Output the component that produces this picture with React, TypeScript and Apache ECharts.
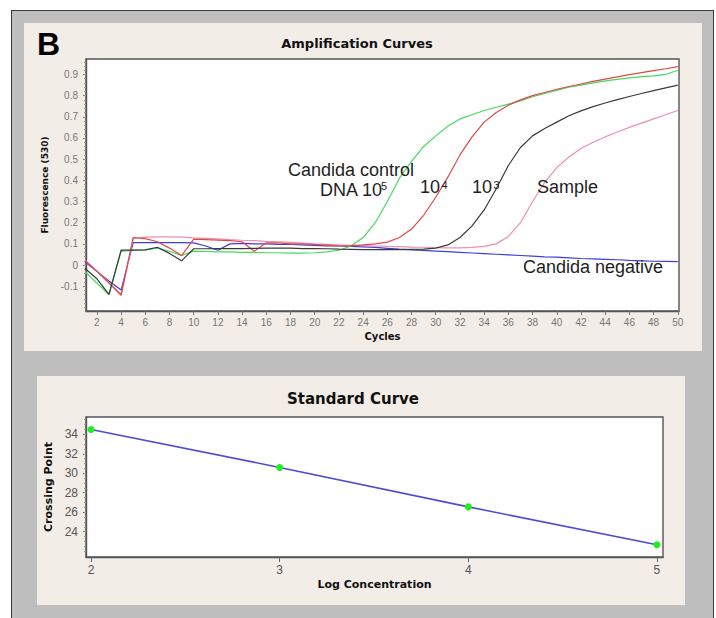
import React, { useEffect, useRef } from "react";
import * as echarts from "echarts";

// ---------- Data ----------
const cycles = [
  1, 2, 3, 4, 5, 6, 7, 8, 9, 10, 11, 12, 13, 14, 15, 16, 17, 18, 19, 20, 21, 22, 23, 24, 25,
  26, 27, 28, 29, 30, 31, 32, 33, 34, 35, 36, 37, 38, 39, 40, 41, 42, 43, 44, 45, 46, 47, 48, 49, 50,
];

const control1e5 = [
  -0.03, -0.085, -0.14, 0.065, 0.07, 0.072, 0.08, 0.065, 0.045, 0.066, 0.064, 0.062, 0.062, 0.06, 0.06,
  0.058, 0.058, 0.056, 0.056, 0.058, 0.062, 0.07, 0.09, 0.13, 0.2, 0.3, 0.41, 0.49, 0.56, 0.61,
  0.655, 0.69, 0.71, 0.73, 0.745, 0.76, 0.775, 0.795, 0.81, 0.825, 0.84, 0.85, 0.86, 0.87, 0.877,
  0.884, 0.89, 0.893, 0.9, 0.92,
];

const control1e4 = [
  0.022, -0.03, -0.085, -0.14, 0.13, 0.125, 0.11, 0.08, 0.045, 0.122, 0.12, 0.118, 0.115, 0.11, 0.065,
  0.105, 0.105, 0.1, 0.1, 0.097, 0.094, 0.09, 0.092, 0.095, 0.1, 0.108, 0.13, 0.17, 0.235, 0.32,
  0.415, 0.52, 0.605, 0.675, 0.72, 0.755, 0.78, 0.8, 0.815, 0.83, 0.843, 0.855, 0.867, 0.878, 0.889,
  0.899, 0.909, 0.918, 0.927, 0.937,
];

const control1e3 = [
  -0.015, -0.065, -0.138, 0.07, 0.07, 0.072, 0.084, 0.055, 0.02, 0.077, 0.077, 0.078, 0.078, 0.078, 0.079,
  0.08, 0.08, 0.08, 0.078, 0.078, 0.077, 0.075, 0.074, 0.073, 0.073, 0.073, 0.073, 0.074, 0.075, 0.08,
  0.095, 0.13, 0.185, 0.26, 0.36, 0.47, 0.555, 0.61, 0.645, 0.675, 0.705, 0.728, 0.748, 0.765, 0.781,
  0.796, 0.81, 0.824, 0.837, 0.85,
];

const sample = [
  0.025, -0.028, -0.083, -0.145, 0.125, 0.132, 0.133, 0.133, 0.132, 0.128, 0.126, 0.124, 0.12, 0.117, 0.115,
  0.112, 0.11, 0.107, 0.104, 0.1, 0.098, 0.095, 0.093, 0.092, 0.09, 0.088, 0.087, 0.085, 0.084, 0.082,
  0.081, 0.081, 0.083, 0.088, 0.1, 0.135, 0.2, 0.3, 0.39, 0.46, 0.51, 0.55, 0.58, 0.605, 0.628,
  0.65, 0.67, 0.69, 0.71, 0.73,
];

const negative = [
  0.015, -0.03, -0.075, -0.118, 0.106, 0.106, 0.106, 0.106, 0.106, 0.105, 0.09, 0.07, 0.1, 0.102, 0.1,
  0.1, 0.098, 0.097, 0.095, 0.093, 0.091, 0.09, 0.088, 0.086, 0.083, 0.079, 0.075, 0.072, 0.069, 0.066,
  0.063, 0.06, 0.057, 0.054, 0.051, 0.048, 0.045, 0.042, 0.039, 0.037, 0.034, 0.031, 0.029, 0.027, 0.025,
  0.022, 0.02, 0.018, 0.017, 0.016,
];

const cycleTicks = [2, 4, 6, 8, 10, 12, 14, 16, 18, 20, 22, 24, 26, 28, 30, 32, 34, 36, 38, 40, 42, 44, 46, 48, 50];
const fluorTicks = [-0.1, 0, 0.1, 0.2, 0.3, 0.4, 0.5, 0.6, 0.7, 0.8, 0.9];

const logConcentration = [2, 3, 4, 5];
const crossingPoint = [34.5, 30.6, 26.55, 22.65];
const logTicks = [2, 3, 4, 5];
const cpTicks = [24, 26, 28, 30, 32, 34];

// ---------- Helpers ----------
const minorRange = (from: number, to: number, step: number) => {
  const out: number[] = [];
  for (let v = from; v <= to + 1e-9; v += step) out.push(Math.round(v * 1000) / 1000);
  return out;
};

const pairs = (xs: number[], ys: number[]) => xs.map((x, i) => [x, ys[i]]);

const AXIS_COLOR = "#555";
const LABEL_FONT = "'Liberation Sans', Arial, sans-serif";
const BOLD_FONT = "'DejaVu Sans', Verdana, sans-serif";
const ANNOT_FONT = "18px 'Liberation Sans', Arial, sans-serif";
const SUP_FONT = "11px 'Liberation Sans', Arial, sans-serif";

export default function App() {
  const ref = useRef<HTMLDivElement>(null);

  useEffect(() => {
    if (!ref.current) return;
    const chart = echarts.init(ref.current, undefined, { renderer: "svg" });

    const lineSeries = (name: string, data: number[], color: string) => ({
      name,
      type: "line",
      xAxisIndex: 0,
      yAxisIndex: 0,
      data: pairs(cycles, data),
      showSymbol: false,
      symbol: "none",
      lineStyle: { color, width: 1.2 },
      itemStyle: { color },
      silent: true,
    });

    const text = (t: string, x: number, y: number, font = ANNOT_FONT) => ({
      type: "text",
      x,
      y,
      silent: true,
      z: 50,
      style: {
        text: t,
        font,
        fill: "#1e1e1e",
        textAlign: "left",
        textVerticalAlign: "middle",
        verticalAlign: "middle",
      },
    });

    const option: any = {
      animation: false,
      backgroundColor: "transparent",
      title: [
        {
          text: "Amplification Curves",
          left: 357,
          top: 37,
          padding: 0,
          textAlign: "center",
          textStyle: { fontFamily: BOLD_FONT, fontWeight: "bold", fontSize: 13, color: "#111" },
        },
        {
          text: "Standard Curve",
          left: 353,
          top: 391,
          padding: 0,
          textAlign: "center",
          textStyle: { fontFamily: BOLD_FONT, fontWeight: "bold", fontSize: 15, color: "#111" },
        },
      ],
      grid: [
        {
          left: 86,
          top: 59,
          width: 593,
          height: 252,
          show: true,
          backgroundColor: "#ffffff",
          borderColor: AXIS_COLOR,
          borderWidth: 1.4,
        },
        {
          left: 86,
          top: 417,
          width: 577,
          height: 140,
          show: true,
          backgroundColor: "#ffffff",
          borderColor: AXIS_COLOR,
          borderWidth: 1.4,
        },
      ],
      xAxis: [
        {
          gridIndex: 0,
          type: "value",
          min: 1.1,
          max: 50.1,
          name: "Cycles",
          nameLocation: "middle",
          nameGap: 20,
          nameTextStyle: { fontFamily: BOLD_FONT, fontWeight: "bold", fontSize: 10, color: "#111" },
          axisLine: { show: true, onZero: false, lineStyle: { color: AXIS_COLOR, width: 1.4 } },
          axisTick: { show: true, length: 4, customValues: cycleTicks, lineStyle: { color: "#777" } },
          axisLabel: {
            customValues: cycleTicks,
            color: "#777",
            fontSize: 10,
            fontFamily: LABEL_FONT,
            margin: 6,
          },
          splitLine: { show: false },
        },
        {
          gridIndex: 1,
          type: "value",
          min: 1.9735,
          max: 5.032,
          name: "Log Concentration",
          nameLocation: "middle",
          nameGap: 22,
          nameTextStyle: { fontFamily: BOLD_FONT, fontWeight: "bold", fontSize: 11, color: "#111" },
          axisLine: { show: true, onZero: false, lineStyle: { color: AXIS_COLOR, width: 1.4 } },
          axisTick: { show: true, length: 5, customValues: logTicks, lineStyle: { color: "#666" } },
          axisLabel: {
            customValues: logTicks,
            color: "#555",
            fontSize: 12,
            fontFamily: LABEL_FONT,
            margin: 7,
          },
          splitLine: { show: false },
        },
      ],
      yAxis: [
        {
          gridIndex: 0,
          type: "value",
          min: -0.217,
          max: 0.973,
          name: "Fluorescence (530)",
          nameLocation: "middle",
          nameGap: 35,
          nameRotate: 90,
          nameTextStyle: { fontFamily: BOLD_FONT, fontWeight: "bold", fontSize: 9, color: "#111" },
          axisLine: { show: true, onZero: false, lineStyle: { color: AXIS_COLOR, width: 1.4 } },
          axisTick: { show: true, length: 3, customValues: fluorTicks, lineStyle: { color: "#777" } },
          axisLabel: {
            customValues: fluorTicks,
            formatter: (v: number) => String(Math.round(v * 10) / 10),
            color: "#777",
            fontSize: 10,
            fontFamily: LABEL_FONT,
            margin: 8,
          },
          splitLine: { show: false },
        },
        {
          gridIndex: 0,
          type: "value",
          min: -0.217,
          max: 0.973,
          position: "left",
          axisLine: { show: false, onZero: false },
          axisTick: { show: true, length: 2, customValues: minorRange(-0.2, 0.96, 0.02), lineStyle: { color: "#999" } },
          axisLabel: { show: false },
          splitLine: { show: false },
        },
        {
          gridIndex: 1,
          type: "value",
          min: 21.4,
          max: 35.78,
          name: "Crossing Point",
          nameLocation: "middle",
          nameGap: 27,
          nameRotate: 90,
          nameTextStyle: { fontFamily: BOLD_FONT, fontWeight: "bold", fontSize: 11, color: "#111" },
          axisLine: { show: true, onZero: false, lineStyle: { color: AXIS_COLOR, width: 1.4 } },
          axisTick: { show: true, length: 3, customValues: cpTicks, lineStyle: { color: "#666" } },
          axisLabel: {
            customValues: cpTicks,
            color: "#555",
            fontSize: 12,
            fontFamily: LABEL_FONT,
            margin: 8,
          },
          splitLine: { show: false },
        },
        {
          gridIndex: 1,
          type: "value",
          min: 21.4,
          max: 35.78,
          position: "left",
          axisLine: { show: false, onZero: false },
          axisTick: { show: true, length: 2, customValues: minorRange(22, 35.5, 0.5), lineStyle: { color: "#999" } },
          axisLabel: { show: false },
          splitLine: { show: false },
        },
      ],
      series: [
        lineSeries("Candida negative", negative, "#3c3ce0"),
        lineSeries("Sample", sample, "#ec8fb0"),
        lineSeries("Candida control DNA 10^5", control1e5, "#46da5e"),
        lineSeries("10^4", control1e4, "#e04848"),
        lineSeries("10^3", control1e3, "#3a3a3a"),
        {
          name: "Standard Curve",
          type: "line",
          xAxisIndex: 1,
          yAxisIndex: 2,
          data: pairs(logConcentration, crossingPoint),
          symbol: "circle",
          symbolSize: 7,
          clip: false,
          lineStyle: { color: "#4c4cd6", width: 1.6 },
          itemStyle: { color: "#1ef01e", borderWidth: 0 },
        },
      ],
      graphic: [
        {
          type: "text",
          x: 37,
          y: 44,
          silent: true,
          style: {
            text: "B",
            font: "bold 32px 'Liberation Sans', Arial, sans-serif",
            fill: "#000",
            textAlign: "left",
            textVerticalAlign: "middle",
            verticalAlign: "middle",
          },
        },
        text("Candida control", 288, 170),
        text("DNA 10", 320, 189.5),
        text("5", 381, 186, SUP_FONT),
        text("10", 420, 187),
        text("4", 441.5, 185, SUP_FONT),
        text("10", 472, 187),
        text("3", 493.5, 185, SUP_FONT),
        text("Sample", 537, 187),
        text("Candida negative", 523, 267),
      ],
    };

    chart.setOption(option);
    return () => chart.dispose();
  }, []);

  return (
    <div
      style={{
        position: "fixed",
        left: 0,
        top: 0,
        width: 716,
        height: 618,
        background: "#ffffff",
        overflow: "hidden",
      }}
    >
      <div
        style={{
          position: "absolute",
          left: 11,
          top: 10,
          width: 703,
          height: 620,
          background: "#bebebe",
          borderLeft: "1.5px solid #3a3a3a",
          borderTop: "1.5px solid #3a3a3a",
          borderRight: "1.5px solid #3a3a3a",
          boxSizing: "border-box",
        }}
      />
      <div
        style={{
          position: "absolute",
          left: 24,
          top: 23,
          width: 678,
          height: 328,
          background: "#f2ede7",
        }}
      />
      <div
        style={{
          position: "absolute",
          left: 37,
          top: 376,
          width: 648,
          height: 229,
          background: "#f2ede7",
        }}
      />
      <div ref={ref} style={{ position: "absolute", left: 0, top: 0, width: 716, height: 618 }} />
    </div>
  );
}
